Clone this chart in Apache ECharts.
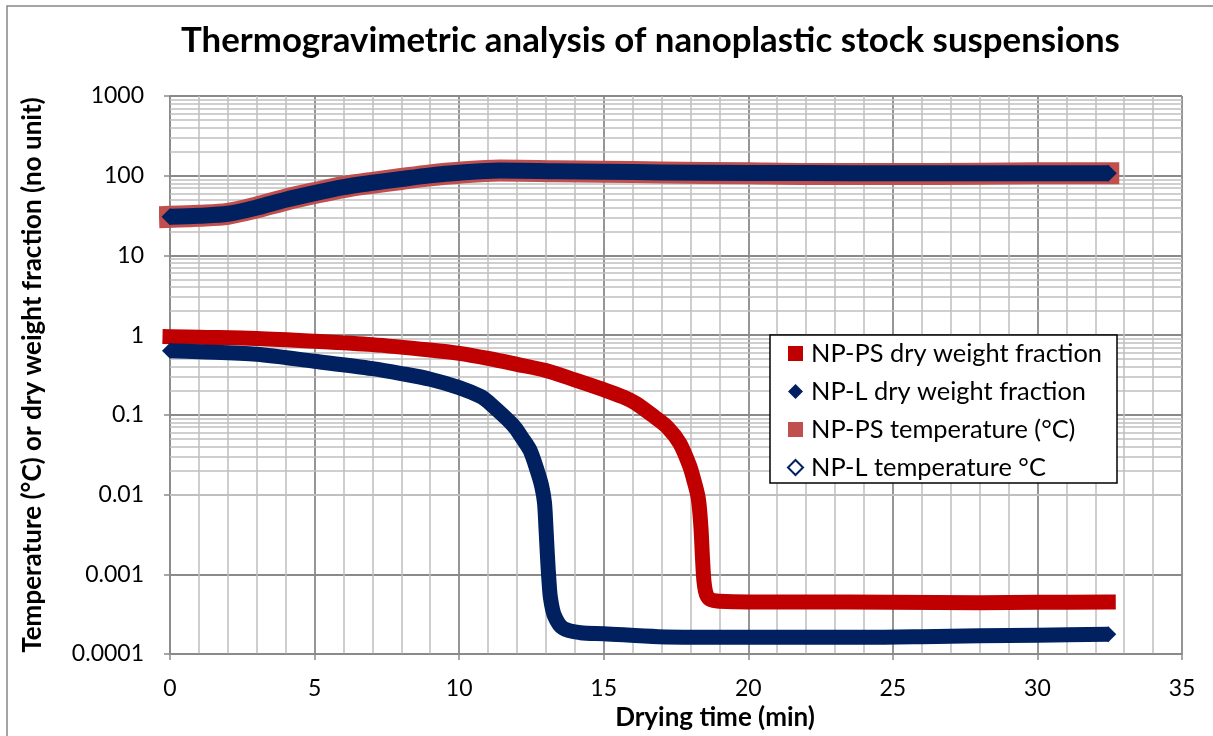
<!DOCTYPE html>
<html><head><meta charset="utf-8">
<script src="https://cdn.jsdelivr.net/npm/echarts@6/dist/echarts.min.js"></script>
<style>html,body{margin:0;padding:0;background:#fff}#c{width:1213px;height:736px}</style>
</head><body><div id="c"></div>
<script>
// ---- data ----
const seriesNames = ['NP-PS dry weight fraction','NP-L dry weight fraction','NP-PS temperature (°C)','NP-L temperature °C'];
const psDryTime = [0,1,3,5,7,9,10,11,12,13,14,15,15.67,16.1,16.66,17.2,17.63,17.97,18.1,18.27,18.36,18.42,18.47,18.55,18.7,19,20,22,25,28,30,32.45];
const psDryVal  = [0.957,0.94,0.91,0.84,0.76,0.65,0.59,0.51,0.43,0.36,0.275,0.207,0.168,0.14,0.1,0.07,0.044,0.023,0.016,0.009,0.004,0.0015,0.0008,0.00056,0.00048,0.00046,0.00045,0.00045,0.000445,0.00044,0.000445,0.000449];
const lDryTime = [0,1,3,5,7,8,9,10,10.75,11,11.87,12.2,12.45,12.7,12.85,12.95,13,13.05,13.1,13.16,13.3,13.6,14.2,15,16.9,20,24,26,28,30,32.45];
const lDryVal  = [0.635,0.62,0.577,0.47,0.38,0.33,0.28,0.22,0.17,0.146,0.074,0.05,0.036,0.02,0.013,0.008,0.004,0.0018,0.0009,0.0005,0.0003,0.00021,0.000185,0.00018,0.000165,0.000162,0.000162,0.000165,0.00017,0.000172,0.000177];
const tempTime   = [0,1,2,3,4,5,6,7,8,9,10,11.4,13.3,15,17,20,22,25,28,30,32.45];
const psTempVal  = [30.5,31.5,33.3,40,50,60.5,72,81.5,91,101,109,116,114,112,110,107,105,105,106,107,107];
const lTempVal   = [30.5,31.5,33.3,40,50,60.5,72,81.5,91,101,109,116,114,112,110,108,108,107,107,107,107];
const xTicks = [0,5,10,15,20,25,30,35];
const yTickLabels = {'-4':'0.0001','-3':'0.001','-2':'0.01','-1':'0.1','0':'1','1':'10','2':'100','3':'1000'};

// build [x, y] points; optionally mark both ends with a symbol
const pair = (xs, ys, endSymbol, endSize) => xs.map((x, i) => {
  if (endSymbol && (i === 0 || i === xs.length - 1)) {
    return {value: [x, ys[i]], symbol: endSymbol, symbolSize: endSize};
  }
  return [x, ys[i]];
});

// minor log gridlines (2..9 in each decade)
const minorY = [];
for (let e = -4; e < 3; e++) for (let m = 2; m <= 9; m++) minorY.push({yAxis: m * Math.pow(10, e)});

const FONT = 'Lato';
const MINOR = '#bfbfbf', MAJOR = '#8a8a8a';
const chart = echarts.init(document.getElementById('c'), null, {renderer: 'canvas'});
chart.setOption({
  backgroundColor: '#fff',
  animation: false,
  title: {
    text: 'Thermogravimetric analysis of nanoplastic stock suspensions',
    left: 176, top: 18,
    textStyle: {fontFamily: FONT, fontWeight: 'bold', fontSize: 34.8, color: '#000'}
  },
  graphic: [{type: 'rect', shape: {x: 7, y: 6, width: 1400, height: 900}, style: {fill: 'none', stroke: '#868686', lineWidth: 1.5}, silent: true, z: 100}],
  grid: {left: 170, right: 31, top: 96, bottom: 82, containLabel: false},
  legend: {
    orient: 'vertical', left: 770, top: 335,
    padding: [6, 15, 3, 17], itemGap: 13, itemWidth: 15, itemHeight: 15,
    backgroundColor: '#fff', borderColor: '#000', borderWidth: 1.5,
    textStyle: {fontFamily: FONT, fontSize: 25.4, color: '#000', padding: [0, 0, 0, 3]},
    data: [
      {name: seriesNames[0], icon: 'rect'},
      {name: seriesNames[1], icon: 'diamond'},
      {name: seriesNames[2], icon: 'rect'},
      {name: seriesNames[3], icon: 'emptyDiamond'}
    ]
  },
  xAxis: {
    type: 'value', min: 0, max: 35, interval: 5,
    name: 'Drying time (min)', nameLocation: 'middle', nameGap: 46,
    nameTextStyle: {fontFamily: FONT, fontWeight: 'bold', fontSize: 26, color: '#000', padding: [0, 0, 0, 78]},
    axisLine: {show: true, lineStyle: {color: MAJOR, width: 1.5}},
    axisTick: {show: true, inside: false, length: 6, lineStyle: {color: MAJOR, width: 1.5}},
    axisLabel: {fontFamily: FONT, fontSize: 23, color: '#000', margin: 23,
      formatter: v => xTicks.includes(v) ? String(v) : ''},
    splitLine: {show: true, lineStyle: {color: MAJOR, width: 1.8}},
    minorTick: {show: false, splitNumber: 5},
    minorSplitLine: {show: true, lineStyle: {color: MINOR, width: 1.5}}
  },
  yAxis: {
    type: 'log', logBase: 10, min: 0.0001, max: 1000, splitNumber: 7,
    name: 'Temperature (°C) or dry weight fraction (no unit)', nameLocation: 'middle', nameGap: 124,
    nameTextStyle: {fontFamily: FONT, fontWeight: 'bold', fontSize: 26, color: '#000'},
    axisLine: {show: true, lineStyle: {color: MAJOR, width: 1.5}},
    axisTick: {show: true, inside: false, length: 6, lineStyle: {color: MAJOR, width: 1.5}},
    axisLabel: {fontFamily: FONT, fontSize: 23, color: '#000', margin: 26,
      formatter: v => yTickLabels[String(Math.round(Math.log10(v)))] || ''},
    splitLine: {show: true, lineStyle: {color: MAJOR, width: 1.8}}
  },
  series: [
    {
      name: seriesNames[0], type: 'line', data: pair(psDryTime, psDryVal), z: 2,
      color: '#C00000', smooth: 0.3, showSymbol: false, symbol: 'rect',
      lineStyle: {width: 15, color: '#C00000', cap: 'square', join: 'round'},
      itemStyle: {color: '#C00000'},
      markLine: {
        silent: true, symbol: 'none', z: 1, animation: false,
        label: {show: false},
        lineStyle: {color: MINOR, width: 1.5, type: 'solid'},
        emphasis: {disabled: true},
        data: minorY
      }
    },
    {
      name: seriesNames[1], type: 'line', data: pair(lDryTime, lDryVal, 'diamond', 16), z: 3,
      color: '#002060', smooth: 0.3, showSymbol: true, showAllSymbol: true, symbol: 'none',
      lineStyle: {width: 15, color: '#002060', cap: 'butt', join: 'round'},
      itemStyle: {color: '#002060'}
    },
    {
      name: seriesNames[2], type: 'line', data: pair(tempTime, psTempVal), z: 4,
      color: '#C0504D', smooth: 0.3, showSymbol: false, symbol: 'rect',
      lineStyle: {width: 22, color: '#C0504D', cap: 'square', join: 'round'},
      itemStyle: {color: '#C0504D'}
    },
    {
      name: seriesNames[3], type: 'line', data: pair(tempTime, lTempVal, 'diamond', 17), z: 5,
      color: '#002060', smooth: 0.3, showSymbol: true, showAllSymbol: true, symbol: 'none',
      lineStyle: {width: 16, color: '#002060', cap: 'butt', join: 'round'},
      itemStyle: {color: '#002060'}
    }
  ]
});
</script>
</body></html>
